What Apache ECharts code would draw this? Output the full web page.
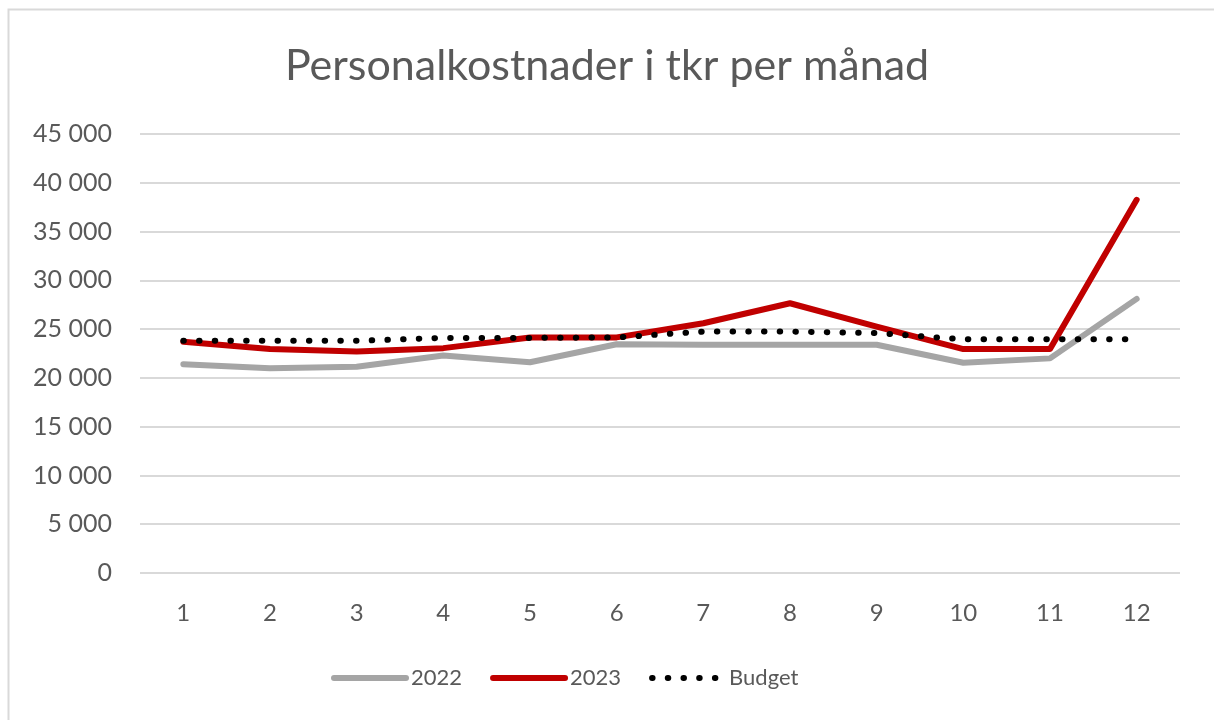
<!DOCTYPE html>
<html>
<head>
<meta charset="utf-8">
<script src="https://cdn.jsdelivr.net/npm/echarts@6/dist/echarts.min.js"></script>
<style>
  html, body { margin: 0; padding: 0; background: #fff; }
  #chart { width: 1214px; height: 720px; }
</style>
</head>
<body>
<div id="chart"></div>
<script>
"use strict";
const months = ["1", "2", "3", "4", "5", "6", "7", "8", "9", "10", "11", "12"];
const y2022 = [21400, 21000, 21150, 22300, 21600, 23450, 23400, 23400, 23400, 21550, 22000, 28100];
const y2023 = [23700, 22950, 22700, 23050, 24150, 24150, 25600, 27650, 25250, 22950, 22950, 38250];
const budget = [23800, 23800, 23800, 24100, 24100, 24150, 24750, 24750, 24600, 23950, 23950, 23950];

const txt = "#595959";
const font = "Lato";
const thousands = (v) => String(v).replace(/\B(?=(\d{3})+(?!\d))/g, "\u00a0");

const chart = echarts.init(document.getElementById("chart"));
chart.setOption({
  backgroundColor: "#fff",
  animation: false,
  textStyle: {fontFamily: font, color: txt},
  graphic: [{
    type: "rect", shape: {x: 8.5, y: 9.5, width: 1300, height: 800},
    style: {fill: "none", stroke: "#d9d9d9", lineWidth: 2}, silent: true,
  }],
  title: {
    text: "Personalkostnader i tkr per månad", left: "center", top: 40,
    textStyle: {fontFamily: font, fontSize: 43, fontWeight: "normal", color: txt},
  },
  legend: {
    bottom: 26, left: 326, itemWidth: 72, itemHeight: 14, itemGap: 28,
    textStyle: {fontFamily: font, fontSize: 22, color: txt},
    itemStyle: {opacity: 0},
    lineStyle: {width: 6, cap: "round"},
    data: ["2022", "2023", "Budget"],
  },
  grid: {left: 140, right: 34, top: 134, bottom: 147},
  xAxis: {
    type: "category", data: months, boundaryGap: true,
    axisLine: {show: false}, axisTick: {show: false},
    axisLabel: {color: txt, fontSize: 24, fontFamily: font, margin: 28},
  },
  yAxis: {
    type: "value", min: 0, max: 45000, interval: 5000,
    axisLine: {show: false}, axisTick: {show: false},
    axisLabel: {color: txt, fontSize: 25, fontFamily: font, margin: 28, formatter: thousands},
    splitLine: {lineStyle: {color: "#d9d9d9", width: 2}},
  },
  series: [
    {name: "2022", type: "line", data: y2022, symbol: "none",
      lineStyle: {color: "#a5a5a5", width: 6, cap: "round", join: "round"}, itemStyle: {color: "#a5a5a5"}},
    {name: "2023", type: "line", data: y2023, symbol: "none",
      lineStyle: {color: "#c00000", width: 6, cap: "round", join: "round"}, itemStyle: {color: "#c00000"}},
    {name: "Budget", type: "line", data: budget, symbol: "none", z: 3,
      lineStyle: {color: "#000", width: 6, type: [0.5, 15.2], cap: "round", join: "round"}, itemStyle: {color: "#000"}},
  ],
});
</script>
</body>
</html>
